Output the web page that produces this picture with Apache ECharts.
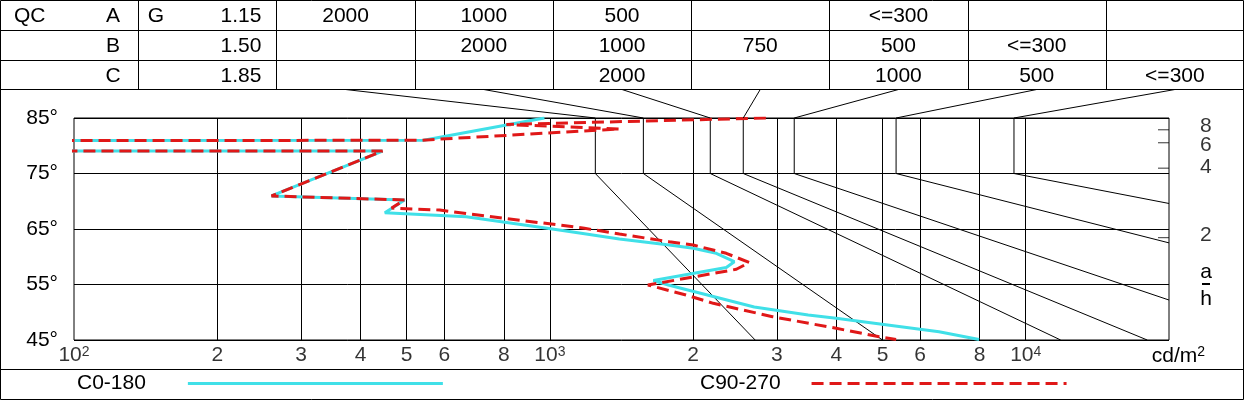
<!DOCTYPE html>
<html><head><meta charset="utf-8">
<script src="https://cdn.jsdelivr.net/npm/echarts@6/dist/echarts.min.js"></script>
<style>html,body{margin:0;padding:0;background:#fff}#c{width:1244px;height:400px}</style>
</head><body><div id="c"></div>
<script>
const FONT = '"Liberation Sans", Arial, sans-serif';
const FS = 21;

// ---- table (quality classes) ----
const classNames = ['A', 'B', 'C'];
const glareIndex = ['1.15', '1.50', '1.85'];
// illuminance values per table column 2..8
const illumA = ['2000', '1000', '500', '', '<=300', '', ''];
const illumB = ['', '2000', '1000', '750', '500', '<=300', ''];
const illumC = ['', '', '2000', '', '1000', '500', '<=300'];

// ---- limit curves (one per table column 2..8), cd/m2 ----
const limitLum = [1246, 1572, 2173, 2549, 3262, 5340, 9446];
const limitEndLum = [2700, 5000, 11840, 18000, 20000, 20000, 20000];
const limitEndDeg = [45, 45, 45, 45, 52.2, 62.5, 69.6];

// ---- luminance curves ----
const c0Lum = [974, 543, 10, 10, 445, 260, 495, 450, 667, 987, 1154, 1400, 1782, 2001, 2237, 2441, 2348, 1650, 1774, 2688, 3490, 3996, 6574, 7978];
const c0Deg = [85.0, 81.0, 80.9, 79.05, 79.05, 70.95, 70.23, 67.94, 67.22, 65.13, 64.28, 63.2, 62.12, 61.52, 60.62, 59.11, 58.06, 55.72, 54.91, 50.95, 49.5, 48.91, 46.5, 45.1];
const c90Lum = [2844, 810, 1400, 532, 10, 10, 445, 260, 495, 465, 587, 678, 889, 1048, 1182, 1400, 1782, 2001, 2348, 2624, 2465, 1607, 1932, 2205, 2937, 3996, 4919, 5340];
const c90Deg = [85.0, 83.83, 83.02, 80.98, 80.9, 79.05, 79.05, 70.95, 70.23, 68.78, 68.42, 67.70, 66.44, 65.72, 65.13, 64.1, 62.71, 62.12, 60.62, 58.96, 57.74, 54.91, 53.11, 51.61, 49.2, 47.11, 45.59, 45.1];

// ---- axes ----
const gridValues = [200, 300, 400, 500, 600, 800, 1000, 2000, 3000, 4000, 5000, 6000, 8000, 10000];
const xTickValues = [100, 200, 300, 400, 500, 600, 800, 1000, 2000, 3000, 4000, 5000, 6000, 8000, 10000];
const xTickLabels = ['10{s|2}', '2', '3', '4', '5', '6', '8', '10{s|3}', '2', '3', '4', '5', '6', '8', '10{s|4}'];
const ahRatios = [8, 6, 4, 2];
const ahLabelDy = [-4, 2, -1, -2];

const chart = echarts.init(document.getElementById('c'));
const zip = (a, b) => a.map((v, i) => [v, b[i]]);

const series = [];
limitLum.forEach((L, i) => {
  series.push({
    type: 'line', name: 'limit' + i, silent: true, symbol: 'none', z: 2,
    lineStyle: { color: '#000', width: 1 },
    data: [[L, 85], [L, 75], [limitEndLum[i], limitEndDeg[i]]]
  });
});
series.push({
  type: 'line', name: 'C0-180', symbol: 'none', z: 5,
  lineStyle: { color: '#40e0e8', width: 3 }, itemStyle: { color: '#40e0e8' },
  data: zip(c0Lum, c0Deg)
});
series.push({
  type: 'line', name: 'C90-270', symbol: 'none', z: 6,
  lineStyle: { color: '#e01818', width: 3, type: 'dashed' }, itemStyle: { color: '#e01818' },
  data: zip(c90Lum, c90Deg)
});
series.push({
  type: 'scatter', name: 'xlabels', silent: true, clip: false, symbolSize: 0, z: 1,
  label: { show: true, position: 'bottom', distance: 5, color: '#000', fontSize: FS, fontFamily: FONT,
    rich: { s: { fontSize: 14, verticalAlign: 'top', fontFamily: FONT, color: '#000' } } },
  data: xTickValues.map((v, i) => ({ value: [v, 45], label: { formatter: xTickLabels[i] } })),
  markLine: {
    silent: true, symbol: ['none', 'none'], label: { show: false }, animation: false,
    lineStyle: { color: '#000', width: 1, type: 'solid' },
    data: gridValues.map(v => ({ xAxis: v }))
  }
});
series.push({
  type: 'scatter', name: 'ah', silent: true, clip: false, z: 3,
  symbol: 'rect', symbolSize: [11, 1], symbolOffset: [-5.5, 0],
  itemStyle: { color: '#000' },
  data: ahRatios.map((r, i) => ({
    value: [20000, Math.atan(r) * 180 / Math.PI],
    label: { show: true, position: 'right', distance: 31, offset: [0, ahLabelDy[i]], formatter: String(r),
      color: '#000', fontSize: FS, fontFamily: FONT }
  }))
});

const legendBase = {
  orient: 'horizontal', align: 'right', top: 373, itemWidth: 255, itemHeight: 20, padding: 0,
  selectedMode: false, itemStyle: { opacity: 0, borderWidth: 0 }
};

chart.setOption({
  animation: false,
  backgroundColor: '#fff',
  textStyle: { fontFamily: FONT },
  grid: { left: 74, right: 75, top: 118, bottom: 60, show: true, borderColor: '#000', borderWidth: 1, backgroundColor: 'transparent' },
  xAxis: { type: 'log', logBase: 10, min: 100, max: 20000,
    axisLine: { show: false }, axisTick: { show: false }, axisLabel: { show: false }, splitLine: { show: false } },
  yAxis: { type: 'value', min: 45, max: 85, interval: 10,
    axisLine: { show: false }, axisTick: { show: false },
    axisLabel: { formatter: '{value}°', color: '#000', fontSize: FS, fontFamily: FONT, margin: 16, padding: [4, 0, 0, 0] },
    splitLine: { show: true, lineStyle: { color: '#000', width: 1 } } },
  legend: [
    Object.assign({}, legendBase, { data: ['C0-180'], left: 77,
      textStyle: { fontSize: FS, color: '#000', fontFamily: FONT, padding: [0, 37, 0, 0] },
      lineStyle: { width: 3 } }),
    Object.assign({}, legendBase, { data: ['C90-270'], left: 700,
      textStyle: { fontSize: FS, color: '#000', fontFamily: FONT, padding: [0, 26, 0, 0] },
      lineStyle: { width: 3, type: 'dashed' } })
  ],
  series: series
});

// ---- table and frame drawn as layout graphics ----
const W = 1244, colW = W / 9;
const rowMid = [16, 46, 76];
const g = [];
const ln = (x1, y1, x2, y2, w) => g.push({ type: 'line', silent: true, z: 10,
  shape: { x1, y1, x2, y2 }, style: { stroke: '#000', lineWidth: w || 1 } });
const tx = (text, x, y, align, extra) => g.push({ type: 'text', silent: true, z: 10, x, y,
  style: Object.assign({ text, fill: '#000', font: FS + 'px ' + FONT, align: align || 'center', verticalAlign: 'middle' }, extra || {}) });

g.push({ type: 'rect', silent: true, z: 10, shape: { x: 0.5, y: 0.5, width: W - 1, height: 399 },
  style: { fill: 'none', stroke: '#000', lineWidth: 1 } });
[30.5, 60.5, 89.5, 369.5].forEach(y => ln(0, y, W, y));
for (let k = 1; k <= 8; k++) { const x = Math.round(colW * k) + 0.5; ln(x, 0, x, 89.5); }

tx('QC', 14, rowMid[0], 'left');
tx('G', 156, rowMid[0]);
const illum = [illumA, illumB, illumC];
classNames.forEach((c, r) => {
  tx(c, 113, rowMid[r]);
  tx(glareIndex[r], 241, rowMid[r]);
  illum[r].forEach((v, j) => { if (v) tx(v, colW * (j + 2) + colW / 2, rowMid[r]); });
});

// connectors from table columns to the top of each limit curve
limitLum.forEach((L, i) => {
  const p = chart.convertToPixel({ gridIndex: 0 }, [L, 85]);
  ln(colW * (i + 2) + colW / 2, 89.5, p[0], p[1]);
});

// a/h label and unit
tx('a', 1206, 272);
g.push({ type: 'rect', silent: true, z: 10, shape: { x: 1202, y: 283, width: 8, height: 2 }, style: { fill: '#000' } });
tx('h', 1206, 299);
g.push({ type: 'text', silent: true, z: 10, x: 1205, y: 356,
  style: { text: 'cd/m{s|2}', align: 'right', verticalAlign: 'middle', fill: '#000', font: FS + 'px ' + FONT,
    rich: { s: { fontSize: 14, verticalAlign: 'top', fontFamily: FONT, fill: '#000' } } } });

chart.setOption({ graphic: g });
</script>
</body></html>
